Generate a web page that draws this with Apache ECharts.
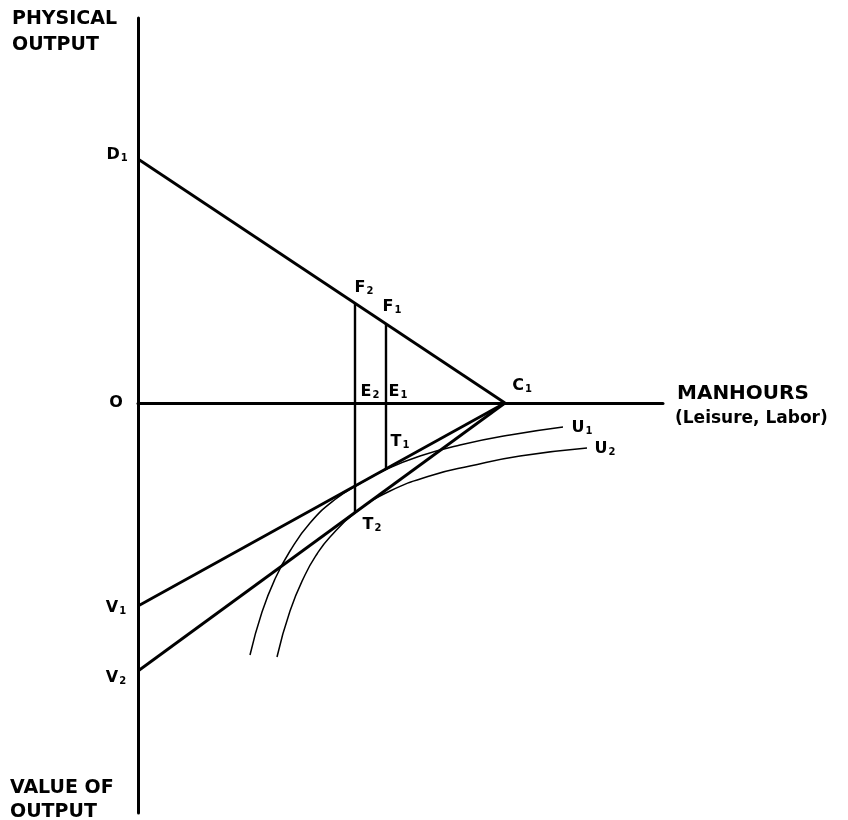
<!DOCTYPE html>
<html><head><meta charset="utf-8">
<script src="https://cdn.jsdelivr.net/npm/echarts@6/dist/echarts.min.js"></script>
<style>html,body{margin:0;padding:0;background:#fff}#c{width:848px;height:820px}</style>
</head><body><div id="c"></div>
<script>
// ---- Data (chart units: x = manhours, y = physical output (+) / value of output (-)) ----
const xRange = [0, 105];
const yRange = [-82, 77];
const productionLine = [[0, 48.8], [73.4, 0]];   // D1 -> C1
const valueLine1 = [[0, -40.6], [73.4, 0]];      // V1 -> C1
const valueLine2 = [[0, -53.6], [73.4, 0]];      // V2 -> C1
const dropLine2 = [[43.4, 20.0], [43.4, -22.0]]; // F2 -> E2 -> T2
const dropLine1 = [[49.6, 15.8], [49.6, -13.2]]; // F1 -> E1 -> T1
const u1X = [22.4, 24.8, 27.4, 30.4, 34.4, 39.4, 44.4, 49.6, 56.4, 64.4, 74.4, 85.0];
const u1Y = [-50.4, -41.8, -35.2, -29.6, -24.0, -19.3, -16.1, -13.3, -10.6, -8.4, -6.4, -4.8];
const u2X = [27.8, 30.4, 33.4, 35.8, 38.4, 43.4, 50.4, 59.0, 66.4, 76.4, 89.8];
const u2Y = [-50.8, -41.6, -34.4, -30.2, -26.8, -22.0, -17.6, -14.4, -12.6, -10.6, -9.0];
const labelMain = ['D', 'O', 'F', 'F', 'E', 'E', 'C', 'T', 'T', 'V', 'V', 'U', 'U'];
const labelSub  = ['1', '',  '2', '1', '2', '1', '1', '1', '2', '1', '2', '1', '2'];
const labelX = [-4.2, -4.4, 45.2, 50.8, 46.4, 52.0, 76.8, 52.4, 46.8, -4.4, -4.4, 88.8, 93.4];
const labelY = [49.8, 0.2, 23.2, 19.4, 2.4, 2.4, 3.6, -7.6, -24.2, -40.8, -54.8, -4.8, -9.0];
const yAxisTop = ['PHYSICAL', 'OUTPUT'];
const yAxisBottom = ['VALUE OF', 'OUTPUT'];
const xAxisTitle = ['MANHOURS', '(Leisure, Labor)'];

// ---- Chart ----
const INK = '#000';
const FONT = '"DejaVu Sans", sans-serif';
const zip = (xs, ys) => xs.map((x, i) => [x, ys[i]]);
const straight = (data, w) => ({
  type: 'line', data, showSymbol: false, silent: true, animation: false,
  lineStyle: { color: INK, width: w }
});
const curve = (data) => ({
  type: 'line', data, smooth: 0.5, showSymbol: false, silent: true, animation: false,
  lineStyle: { color: INK, width: 1.5 }
});

const chart = echarts.init(document.getElementById('c'), null, { renderer: 'canvas' });
chart.setOption({
  backgroundColor: '#fff',
  animation: false,
  grid: { left: 138, top: 18, width: 525, height: 795 },
  xAxis: {
    type: 'value', min: xRange[0], max: xRange[1],
    axisLine: { show: true, onZero: true, lineStyle: { color: INK, width: 3 } },
    axisTick: { show: false }, axisLabel: { show: false }, splitLine: { show: false }
  },
  yAxis: {
    type: 'value', min: yRange[0], max: yRange[1],
    axisLine: { show: true, lineStyle: { color: INK, width: 3 } },
    axisTick: { show: false }, axisLabel: { show: false }, splitLine: { show: false }
  },
  series: [
    straight(productionLine, 2.8),
    straight(valueLine1, 2.8),
    straight(valueLine2, 2.8),
    straight(dropLine2, 2.4),
    straight(dropLine1, 2.4),
    curve(zip(u1X, u1Y)),
    curve(zip(u2X, u2Y)),
    {
      type: 'scatter', symbolSize: 0, clip: false, silent: true, animation: false,
      itemStyle: { opacity: 1, color: INK },
      data: labelX.map((x, i) => ({ value: [x, labelY[i]], main: labelMain[i], sub: labelSub[i] })),
      label: {
        show: true, position: 'inside', color: INK, opacity: 1,
        formatter: p => '{m|' + p.data.main + '}' + (p.data.sub ? '{s|' + p.data.sub + '}' : ''),
        rich: {
          m: { fontFamily: FONT, fontSize: 16, fontWeight: 'bold', color: INK, lineHeight: 18, verticalAlign: 'bottom' },
          s: { fontFamily: FONT, fontSize: 10, fontWeight: 'bold', color: INK, lineHeight: 18, verticalAlign: 'bottom', padding: [0, 0, 0, 1] }
        }
      }
    }
  ],
  graphic: [
    { type: 'text', left: 12, top: 10, style: { text: yAxisTop[0], font: 'bold 19px ' + FONT, fill: INK } },
    { type: 'text', left: 12, top: 36, style: { text: yAxisTop[1], font: 'bold 19px ' + FONT, fill: INK } },
    { type: 'text', left: 10, top: 779, style: { text: yAxisBottom[0], font: 'bold 19px ' + FONT, fill: INK } },
    { type: 'text', left: 10, top: 803, style: { text: yAxisBottom[1], font: 'bold 19px ' + FONT, fill: INK } },
    { type: 'text', left: 677, top: 384, style: { text: xAxisTitle[0], font: 'bold 20px ' + FONT, fill: INK } },
    { type: 'text', left: 675, top: 410, style: { text: xAxisTitle[1], font: 'bold 17px ' + FONT, fill: INK } }
  ]
});
</script>
</body></html>
